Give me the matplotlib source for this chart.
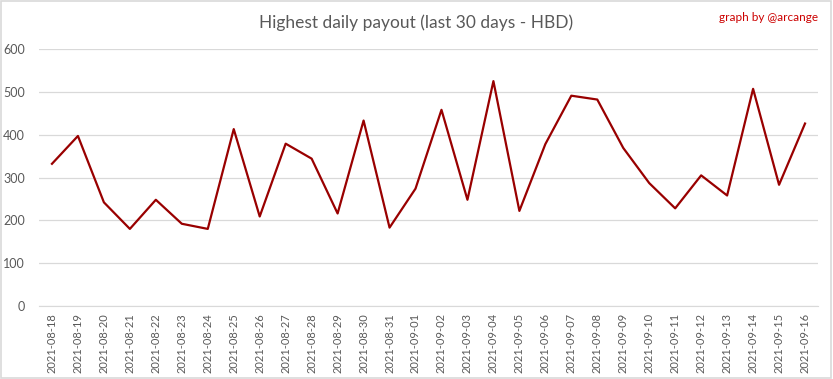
import matplotlib.pyplot as plt
from matplotlib.patches import Rectangle

plt.rcParams['font.family'] = ['Lato', 'DejaVu Sans']

# dates and highest daily payout (HBD)
dates = ['2021-08-18', '2021-08-19', '2021-08-20', '2021-08-21', '2021-08-22',
         '2021-08-23', '2021-08-24', '2021-08-25', '2021-08-26', '2021-08-27',
         '2021-08-28', '2021-08-29', '2021-08-30', '2021-08-31', '2021-09-01',
         '2021-09-02', '2021-09-03', '2021-09-04', '2021-09-05', '2021-09-06',
         '2021-09-07', '2021-09-08', '2021-09-09', '2021-09-10', '2021-09-11',
         '2021-09-12', '2021-09-13', '2021-09-14', '2021-09-15', '2021-09-16']
payouts = [332, 397, 242, 180, 248, 192, 180, 413, 209, 379,
           344, 216, 433, 183, 274, 458, 248, 525, 222, 378,
           491, 482, 369, 287, 228, 305, 258, 507, 283, 426]

fig = plt.figure(figsize=(8.33, 3.79), dpi=100)
ax = fig.add_axes([0.0468, 0.1926, 0.9352, 0.6781])

x = range(len(dates))
ax.plot(x, payouts, color='#990000', linewidth=1.6)

ax.set_xlim(-0.5, len(dates) - 0.5)
ax.set_ylim(0, 600)
ax.set_yticks(range(0, 601, 100))
ax.set_xticks(list(x))
ax.set_xticklabels(dates, rotation=90, fontsize=8, color='#595959')
ax.tick_params(axis='y', labelsize=9, labelcolor='#595959', length=0, pad=10)
ax.tick_params(axis='x', length=0, pad=5)
ax.grid(axis='y', color='#d9d9d9', linewidth=0.9)
ax.set_axisbelow(True)
for s in ['top', 'right', 'left']:
    ax.spines[s].set_visible(False)
ax.spines['bottom'].set_color('#d9d9d9')

fig.text(0.5, 0.94, 'Highest daily payout (last 30 days - HBD)', ha='center',
         va='center', fontsize=12.5, color='#595959')
fig.text(0.982, 0.955, 'graph by @arcange', ha='right', va='center',
         fontsize=8.5, color='#cc0000')

# chart border
fig.patches.append(Rectangle((0.001, 0.002), 0.997, 0.995, transform=fig.transFigure,
                             fill=False, edgecolor='#d9d9d9', linewidth=1.2))

fig.savefig('out.png', dpi=100)
